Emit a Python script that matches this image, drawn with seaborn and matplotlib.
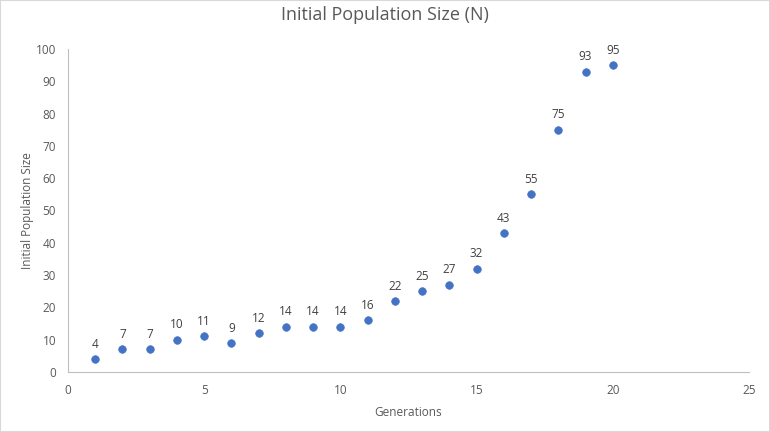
import pandas as pd
import seaborn as sns
import matplotlib.pyplot as plt

generations = [1, 2, 3, 4, 5, 6, 7, 8, 9, 10, 11, 12, 13, 14, 15, 16, 17, 18, 19, 20]
population = [4, 7, 7, 10, 11, 9, 12, 14, 14, 14, 16, 22, 25, 27, 32, 43, 55, 75, 93, 95]

df = pd.DataFrame({'Generations': generations, 'Initial Population Size': population})

sns.set_style("white")
plt.rcParams['font.family'] = ['Open Sans', 'DejaVu Sans']
grey = '#595959'
axis_grey = '#bfbfbf'

fig = plt.figure(figsize=(7.7, 4.32), dpi=100)
ax = fig.add_axes([0.0883, 0.1389, 0.8844, 0.7477])
sns.scatterplot(data=df, x='Generations', y='Initial Population Size', ax=ax,
                color='#4472C4', s=30, edgecolor='#4472C4', linewidth=0.5, zorder=3)

for x, y in zip(generations, population):
    ax.annotate(str(y), (x, y), xytext=(0, 6), textcoords='offset points',
                ha='center', va='bottom', fontsize=8.5, color='#404040')

ax.set_xlim(0, 25)
ax.set_ylim(0, 100)
ax.set_xticks(range(0, 26, 5))
ax.set_yticks(range(0, 101, 10))
for s in ['top', 'right']:
    ax.spines[s].set_visible(False)
for s in ['left', 'bottom']:
    ax.spines[s].set_color(axis_grey)
    ax.spines[s].set_linewidth(0.8)
ax.tick_params(axis='both', colors=axis_grey, labelcolor=grey, labelsize=8.5,
               length=5, width=0.8, direction='out')
ax.tick_params(axis='x', direction='inout', length=10, pad=4)
ax.set_xlabel('Generations', fontsize=8.5, color=grey, labelpad=6)
ax.set_ylabel('Initial Population Size', fontsize=8.5, color=grey, labelpad=1)
fig.suptitle('Initial Population Size (N)', fontsize=13, color=grey, y=0.985)

fig.patches.append(plt.Rectangle((0, 0), 1, 1, transform=fig.transFigure,
                                 fill=False, edgecolor='#d9d9d9', linewidth=1.5))

fig.savefig('out.png', dpi=100)
